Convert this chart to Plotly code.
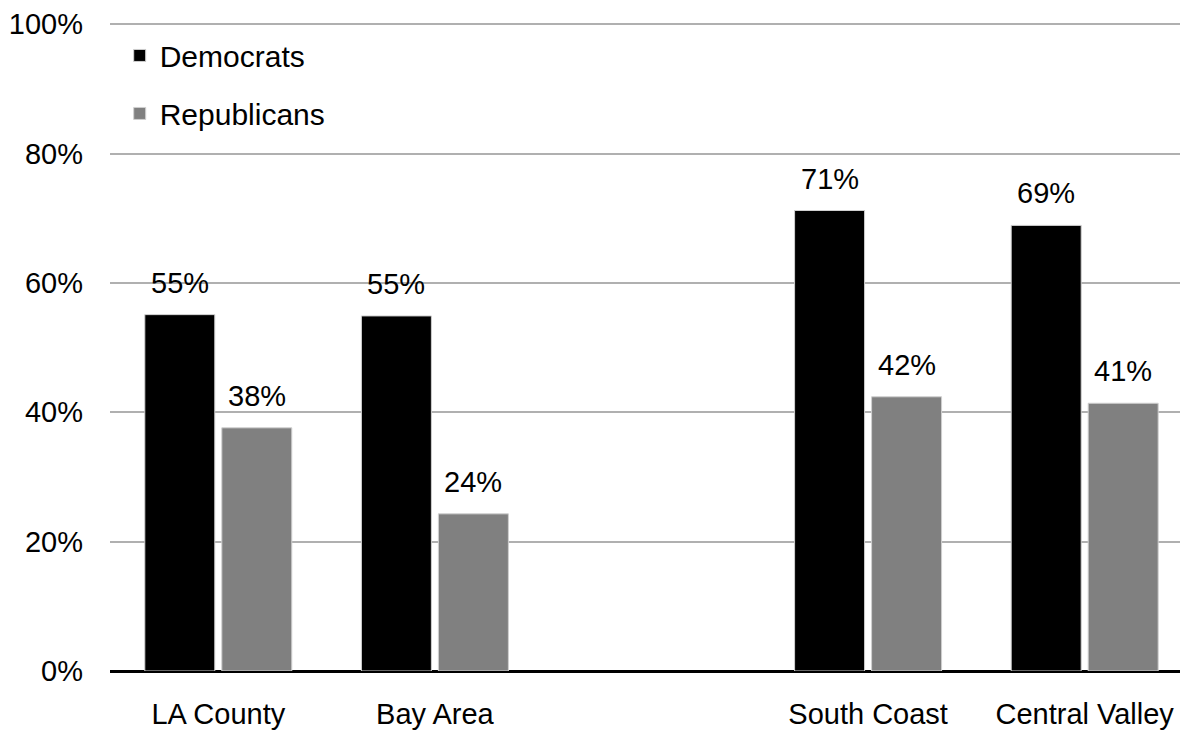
import plotly.graph_objects as go

categories = ["LA County", "Bay Area", " ", "South Coast", "Central Valley"]
democrats = [55.1, 54.9, None, 71.2, 68.9]
republicans = [37.6, 24.3, None, 42.4, 41.4]
series_names = ["Democrats", "Republicans"]
y_ticks = [0, 20, 40, 60, 80, 100]
y_tick_labels = ["0%", "20%", "40%", "60%", "80%", "100%"]

FONT = "Liberation Sans, Arial, sans-serif"

fig = go.Figure()
fig.add_trace(go.Bar(
    x=categories, y=democrats, name=series_names[0], legendgroup="d",
    marker=dict(color="#000000", line=dict(color="#d0d0d0", width=1)),
))
fig.add_trace(go.Bar(
    x=categories, y=republicans, name=series_names[1], legendgroup="r",
    marker=dict(color="#808080", line=dict(color="#d0d0d0", width=1)),
))

# data labels above bars
off = 0.178
for i, (d, r) in enumerate(zip(democrats, republicans)):
    for val, dx in ((d, -off), (r, off)):
        if val is None:
            continue
        fig.add_annotation(
            x=i + dx, y=val, xref="x", yref="y",
            text=f"{round(val):.0f}%", showarrow=False,
            yanchor="bottom", xanchor="center", yshift=14,
            font=dict(family=FONT, size=29, color="#000000"),
        )

fig.update_layout(
    width=1180, height=724,
    margin=dict(l=102, r=0, t=9, b=61),
    paper_bgcolor="white", plot_bgcolor="white",
    barmode="group", bargap=0.289, bargroupgap=0.091,
    font=dict(family=FONT, size=29, color="#000000"),
    legend=dict(
        x=0.009, y=0.987, xanchor="left", yanchor="top",
        bgcolor="rgba(0,0,0,0)", font=dict(family=FONT, size=30),
        tracegroupgap=16, itemwidth=30,
    ),
    showlegend=True,
)
fig.update_xaxes(
    type="category", categoryorder="array", categoryarray=categories,
    range=[-0.5, 4.477], showgrid=False, ticks="", ticklabelstandoff=23,
    showline=False, zeroline=False,
    tickfont=dict(family=FONT, size=29, color="#000000"),
)
fig.update_yaxes(
    range=[0, 100.5], tickvals=y_ticks, ticktext=y_tick_labels,
    showgrid=True, gridcolor="#b0b0b0", gridwidth=2,
    zeroline=True, zerolinecolor="#000000", zerolinewidth=3,
    ticks="", ticklabelstandoff=26, showline=False,
    ticklabeloverflow="allow",
    tickfont=dict(family=FONT, size=29, color="#000000"),
)

fig.write_html("out.html")
